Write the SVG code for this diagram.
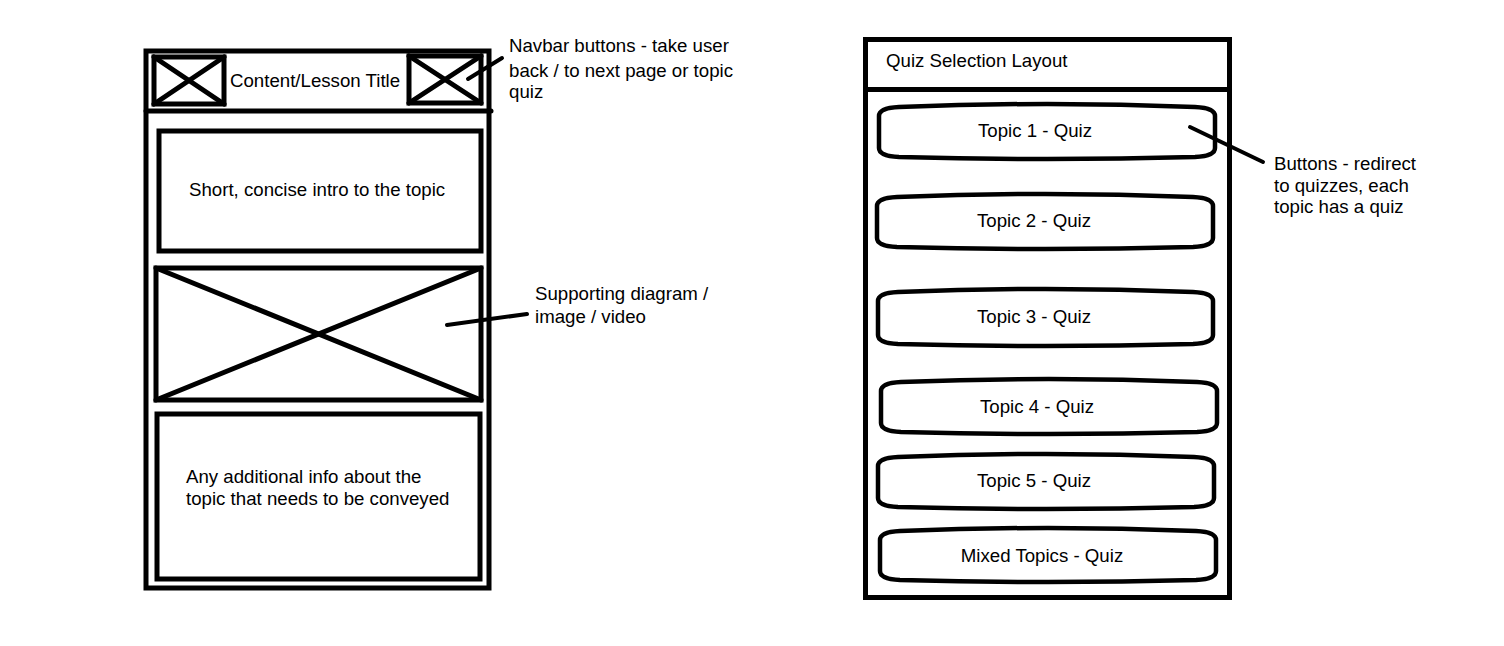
<svg xmlns="http://www.w3.org/2000/svg" width="1504" height="646" viewBox="0 0 1504 646">
<style>
.f{fill:none;stroke:#000;stroke-width:5;stroke-linecap:round;stroke-linejoin:miter}
.b{fill:none;stroke:#000;stroke-width:4.5;stroke-linejoin:round}
.c{fill:none;stroke:#000;stroke-width:4;stroke-linecap:round}
text{font-family:"Liberation Sans",Arial,sans-serif;font-size:18.67px;fill:#000}
.m{text-anchor:middle}
</style>
<rect width="1504" height="646" fill="#fff"/>
<g id="lesson-page">
  <rect class="f" x="146" y="51" width="343" height="537"/>
  <line class="f" x1="146" y1="111" x2="491" y2="111"/>
  <g id="nav-back">
    <rect class="f" x="154" y="57" width="70" height="47"/>
    <line class="f" x1="154" y1="57" x2="224" y2="104"/>
    <line class="f" x1="154" y1="104" x2="224" y2="57"/>
  </g>
  <text x="230" y="87">Content/Lesson Title</text>
  <g id="nav-next">
    <rect class="f" x="409" y="56" width="72" height="47"/>
    <line class="f" x1="409" y1="56" x2="481" y2="103"/>
    <line class="f" x1="409" y1="103" x2="481" y2="56"/>
  </g>
  <g id="intro">
    <rect class="f" x="159" y="131" width="322" height="120"/>
    <text x="189" y="196">Short, concise intro to the topic</text>
  </g>
  <g id="media">
    <rect class="f" x="156" y="268" width="325" height="132"/>
    <line class="f" x1="156" y1="268" x2="481" y2="400"/>
    <line class="f" x1="156" y1="400" x2="481" y2="268"/>
  </g>
  <g id="additional">
    <rect class="f" x="157" y="414" width="323" height="165"/>
    <text x="186" y="483">Any additional info about the</text>
    <text x="186" y="505">topic that needs to be conveyed</text>
  </g>
</g>
<g id="quiz-page">
  <rect class="f" x="865.5" y="39.5" width="364" height="558"/>
  <line class="f" x1="865.5" y1="89.5" x2="1229.5" y2="89.5"/>
  <text x="886" y="67">Quiz Selection Layout</text>
  <g id="btn1">
    <path class="b" d="M879,116 Q879,108 899,107 Q1047,101 1195,107 Q1215,108 1215,116 L1215,148 Q1215,156 1195,157 Q1047,161 899,157 Q879,156 879,148 Z"/>
    <text class="m" x="1035" y="137">Topic 1 - Quiz</text>
  </g>
  <g id="btn2">
    <path class="b" d="M877,206 Q877,198 897,197 Q1045,191 1193,197 Q1213,198 1213,206 L1213,238 Q1213,246 1193,247 Q1045,251 897,247 Q877,246 877,238 Z"/>
    <text class="m" x="1034" y="227">Topic 2 - Quiz</text>
  </g>
  <g id="btn3">
    <path class="b" d="M878,301 Q878,293 898,292 Q1045,286 1193,292 Q1213,293 1213,301 L1213,335 Q1213,343 1193,344 Q1045,348 898,344 Q878,343 878,335 Z"/>
    <text class="m" x="1034" y="323">Topic 3 - Quiz</text>
  </g>
  <g id="btn4">
    <path class="b" d="M881,391 Q881,383 901,382 Q1049,376 1197,382 Q1217,383 1217,391 L1217,423 Q1217,431 1197,432 Q1049,436 901,432 Q881,431 881,423 Z"/>
    <text class="m" x="1037" y="413">Topic 4 - Quiz</text>
  </g>
  <g id="btn5">
    <path class="b" d="M878,466 Q878,458 898,457 Q1046,451 1194,457 Q1214,458 1214,466 L1214,498 Q1214,506 1194,507 Q1046,511 898,507 Q878,506 878,498 Z"/>
    <text class="m" x="1034" y="487">Topic 5 - Quiz</text>
  </g>
  <g id="btn6">
    <path class="b" d="M880,540 Q880,532 900,531 Q1048,525 1196,531 Q1216,532 1216,540 L1216,571 Q1216,579 1196,580 Q1048,584 900,580 Q880,579 880,571 Z"/>
    <text class="m" x="1042" y="562">Mixed Topics - Quiz</text>
  </g>
</g>
<g id="annotations">
  <text x="509" y="52">Navbar buttons - take user</text>
  <text x="509" y="77">back / to next page or topic</text>
  <text x="509" y="98">quiz</text>
  <text x="535" y="300">Supporting diagram /</text>
  <text x="535" y="323">image / video</text>
  <text x="1274" y="170">Buttons - redirect</text>
  <text x="1274" y="192">to quizzes, each</text>
  <text x="1274" y="213">topic has a quiz</text>
</g>
<g id="connectors">
  <line class="c" x1="468" y1="79" x2="502" y2="58"/>
  <line class="c" x1="447" y1="325" x2="527" y2="314"/>
  <line class="c" x1="1190" y1="127" x2="1263" y2="162"/>
</g>
</svg>
